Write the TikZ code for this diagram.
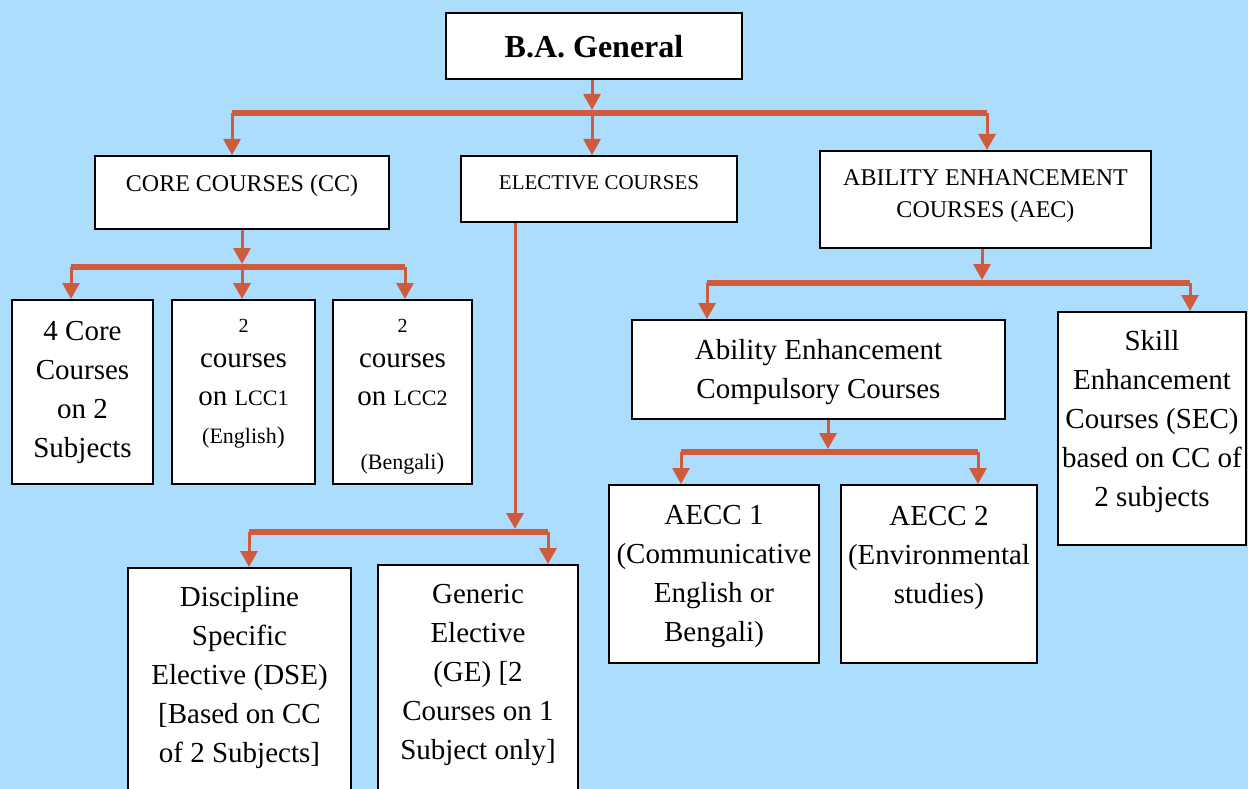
\documentclass[tikz,border=0pt]{standalone}
\usepackage{fontspec}
\setmainfont{Liberation Serif}
\usetikzlibrary{arrows.meta}
\definecolor{bgblue}{RGB}{172,221,253}
\definecolor{arrred}{RGB}{208,90,60}
\tikzset{
  box/.style={draw=black, line width=2pt, fill=white, inner sep=0pt},
  txt/.style={align=center, inner sep=0pt, font=\fontsize{29}{39}\selectfont},
  smalltxt/.style={align=center, inner sep=0pt, font=\fontsize{24}{32}\selectfont},
  stemline/.style={draw=arrred, line width=3pt, -{Triangle[width=17pt,length=16pt]}},
  barline/.style={draw=arrred, line width=6pt},
}
\begin{document}
\begin{tikzpicture}[x=1pt,y=-1pt]
\useasboundingbox (0,0) rectangle (1248,789);
\clip (0,0) rectangle (1248,789);
\fill[bgblue] (0,0) rectangle (1248,789);

% boxes
\node[box, minimum width=296pt, minimum height=66pt] (ba) at (594,46) {};
\node[box, minimum width=294pt, minimum height=73pt] (cc) at (242,192.5) {};
\node[box, minimum width=276pt, minimum height=66pt] (ec) at (599,189) {};
\node[box, minimum width=331pt, minimum height=97pt] (aec) at (985.5,199.5) {};
\node[box, minimum width=141pt, minimum height=184pt] (core4) at (82.5,392) {};
\node[box, minimum width=143pt, minimum height=184pt] (lcc1) at (243.5,392) {};
\node[box, minimum width=139pt, minimum height=184pt] (lcc2) at (402.5,392) {};
\node[box, minimum width=373pt, minimum height=99pt] (aecc) at (818.5,369.5) {};
\node[box, minimum width=188pt, minimum height=233pt] (sec) at (1152,428.5) {};
\node[box, minimum width=210pt, minimum height=178pt] (aecc1) at (714,574) {};
\node[box, minimum width=196pt, minimum height=178pt] (aecc2) at (939,574) {};
\node[box, minimum width=223pt, minimum height=252pt] (dse) at (239.5,694) {};
\node[box, minimum width=200pt, minimum height=255pt] (ge) at (478,692.5) {};

% texts
\node[inner sep=0pt, font=\fontsize{32}{38}\selectfont\bfseries] (tba) at (594,47) {B.A. General};
\node[smalltxt] (tcc) at (242,186) {CORE COURSES (CC)};
\node[inner sep=0pt, font=\fontsize{21}{26}\selectfont] (tec) at (599,183) {ELECTIVE COURSES};
\node[smalltxt] (taec) at (985.5,196) {ABILITY ENHANCEMENT\\COURSES (AEC)};
\node[txt] (tcore4) at (82.5,392) {4 Core\\Courses\\on 2\\Subjects};
\node[inner sep=0pt, font=\fontsize{20}{24}\selectfont] (tl1a) at (243.5,326) {2};
\node[txt] (tl1b) at (243.5,361) {courses};
\node[txt] (tl1c) at (243.5,398) {on {\fontsize{22}{26}\selectfont LCC1}};
\node[txt] (tl1d) at (243.5,438) {{\fontsize{22}{26}\selectfont (English}{\fontsize{24}{26}\selectfont )}};
\node[inner sep=0pt, font=\fontsize{20}{24}\selectfont] (tl2a) at (402.5,326) {2};
\node[txt] (tl2b) at (402.5,361) {courses};
\node[txt] (tl2c) at (402.5,398) {on {\fontsize{22}{26}\selectfont LCC2}};
\node[txt] (tl2d) at (402.5,464) {{\fontsize{22}{26}\selectfont (Bengali}{\fontsize{24}{26}\selectfont )}};
\node[txt] (taecc) at (818.5,372.5) {Ability Enhancement\\Compulsory Courses};
\node[txt] (tsec) at (1152,422) {Skill\\Enhancement\\Courses (SEC)\\based on CC of\\2 subjects};
\node[txt] (taecc1) at (714,577) {AECC 1\\(Communicative\\English or\\Bengali)};
\node[txt] (taecc2) at (939,557.5) {AECC 2\\(Environmental\\studies)};
\node[txt] (tdse) at (239.5,678) {Discipline\\Specific\\Elective (DSE)\\{[}Based on CC\\of 2 Subjects{]}};
\node[txt] (tge) at (478,675.5) {Generic\\Elective\\(GE) {[}2\\Courses on 1\\Subject only{]}};

% junction coordinates
\coordinate (j1) at (592,113);  \coordinate (j1L) at (232,113);  \coordinate (j1R) at (987,113);
\coordinate (j2) at (242,267);  \coordinate (j2L) at (71,267);   \coordinate (j2R) at (405,267);
\coordinate (j3) at (515,532);  \coordinate (j3L) at (249,532);  \coordinate (j3R) at (548,532);
\coordinate (j4) at (982,283);  \coordinate (j4L) at (707,283);  \coordinate (j4R) at (1190,283);
\coordinate (j5) at (828,452);  \coordinate (j5L) at (681,452);  \coordinate (j5R) at (978,452);

% bars
\draw[barline] (j1L) -- (j1R);
\draw[barline] (j2L) -- (j2R);
\draw[barline] (j3L) -- (j3R);
\draw[barline] (j4L) -- (j4R);
\draw[barline] (j5L) -- (j5R);

% stems into bars
\draw[stemline, shorten >=3pt] (ba.south -| j1) -- (j1);
\draw[stemline, shorten >=3pt] (cc.south -| j2) -- (j2);
\draw[stemline, shorten >=3pt] (ec.south -| j3) -- (j3);
\draw[stemline, shorten >=3pt] (aec.south -| j4) -- (j4);
\draw[stemline, shorten >=3pt] (aecc.south -| j5) -- (j5);

% arrows into boxes
\draw[stemline] (j1L) -- (j1L |- cc.north);
\draw[stemline] (j1) -- (j1 |- ec.north);
\draw[stemline] (j1R) -- (j1R |- aec.north);
\draw[stemline] (j2L) -- (j2L |- core4.north);
\draw[stemline] (j2) -- (j2 |- lcc1.north);
\draw[stemline] (j2R) -- (j2R |- lcc2.north);
\draw[stemline] (j3L) -- (j3L |- dse.north);
\draw[stemline] (j3R) -- (j3R |- ge.north);
\draw[stemline] (j4L) -- (j4L |- aecc.north);
\draw[stemline] (j4R) -- (j4R |- sec.north);
\draw[stemline] (j5L) -- (j5L |- aecc1.north);
\draw[stemline] (j5R) -- (j5R |- aecc2.north);
\end{tikzpicture}
\end{document}
